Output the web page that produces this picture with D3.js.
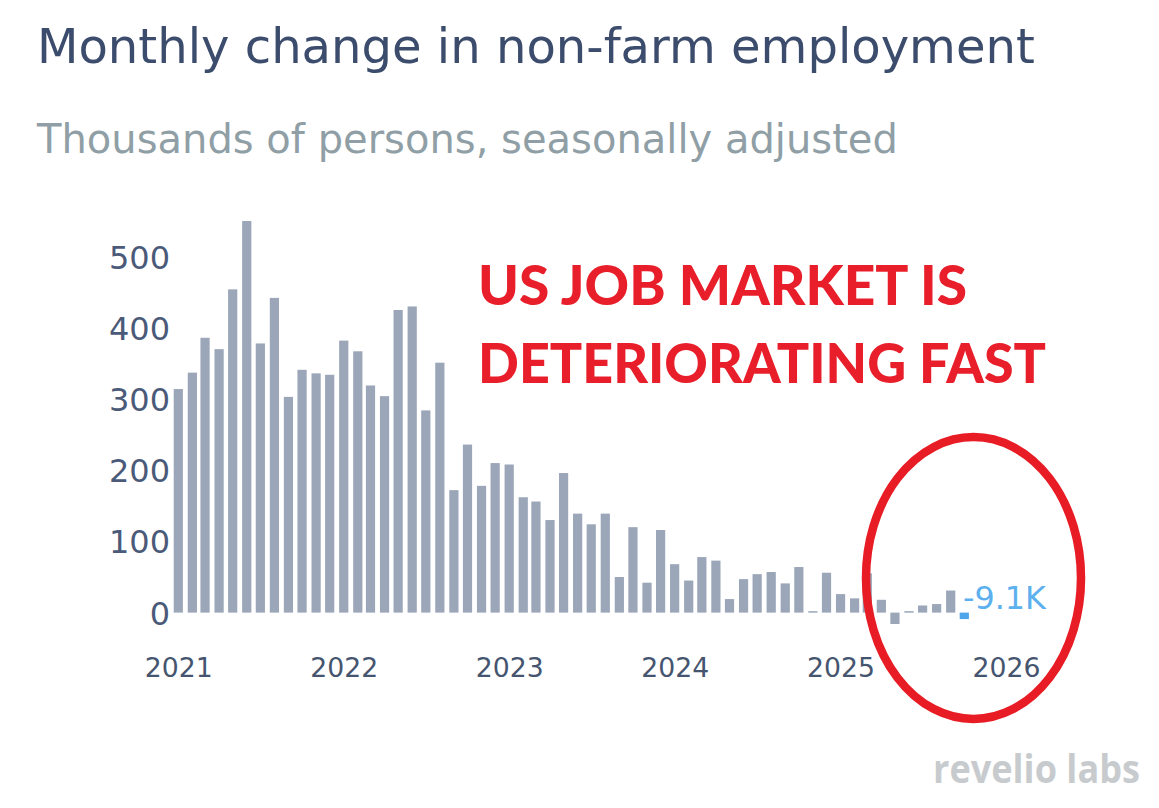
<!DOCTYPE html>
<html><head><meta charset="utf-8">
<script src="https://cdn.jsdelivr.net/npm/d3@7"></script>
<style>html,body{margin:0;padding:0;background:#fff}svg{display:block}</style></head>
<body><svg id="c" width="1159" height="808"></svg>
<script>
const months = d3.range(58).map(i => new Date(2021, i, 1));
const values = [314,337,386,370,454,550,378,442,303,341,336,334,382,367,319,304,425,430,284,351,172,236,178,210,208,162,156,130,196,139,124,139,50,120,42,116,68,45,78,73,19,47,54,57,41,64,2,56,26,20,55,18,-16,2,10,12,31,-9.1];
const yTicks = [0,100,200,300,400,500];
const xTicks = [2021,2022,2023,2024,2025,2026];
const titleText = "Monthly change in non-farm employment";
const subtitleText = "Thousands of persons, seasonally adjusted";
const noteLines = ["US JOB MARKET IS","DETERIORATING FAST"];
const noteWidths = [489,568];
const lastLabel = "-9.1K";

const svg = d3.select("#c");
const x = d3.scaleTime().domain([new Date(2021,0,1), new Date(2026,0,1)]).range([178.3,1006]);
const y = d3.scaleLinear().domain([0,500]).range([612.6,256.6]);
const bw = 9.2;
const sans = "'DejaVu Sans',sans-serif";
// scale a text's font size so that it spans the given width
function fit(t, w){ const fs = parseFloat(t.attr("font-size")); t.attr("font-size", fs*w/t.node().getComputedTextLength()); return t; }

fit(svg.append("text").attr("x",37).attr("y",63).attr("font-family",sans).attr("font-size",46).attr("fill","#3c4c6c").text(titleText), 998);
fit(svg.append("text").attr("x",37).attr("y",152.5).attr("font-family",sans).attr("font-size",38).attr("fill","#909fa6").text(subtitleText), 861);

svg.append("g").selectAll("rect").data(values).join("rect")
  .attr("x",(d,i)=>x(months[i])-bw/2)
  .attr("width",bw)
  .attr("y",d=>y(Math.max(d,0)))
  .attr("height",d=>Math.max(Math.abs(y(d)-y(0)),1.5))
  .attr("fill",(d,i)=>i===values.length-1?"#4ea5ea":"#9ba6b8");

const yAxis = d3.axisLeft(y).tickValues(yTicks).tickSize(0).tickPadding(0).tickFormat(d3.format("d"));
const gy = svg.append("g").attr("transform","translate(170,0)").call(yAxis);
gy.select(".domain").remove();
gy.selectAll("text").attr("font-family",sans).attr("font-size",32).attr("fill","#4a5a78").attr("dy","0.36em");

const xAxis = d3.axisBottom(x).tickValues(xTicks.map(v=>new Date(v,0,1))).tickSize(0).tickPadding(0).tickFormat(d3.timeFormat("%Y"));
const gx = svg.append("g").attr("transform","translate(0,657)").call(xAxis);
gx.select(".domain").remove();
gx.selectAll("text").attr("font-family",sans).attr("font-size",26.7).attr("fill","#46556f").attr("dy","0.74em");

fit(svg.append("text").attr("x",963).attr("y",609).attr("font-family",sans).attr("font-size",27).attr("fill","#5cb0ee").text(lastLabel), 83);

svg.append("g").selectAll("text").data(noteLines).join("text")
  .attr("x",478).attr("y",(d,i)=>305+i*78)
  .attr("font-family","Lato,sans-serif").attr("font-weight",900).attr("font-size",56).attr("fill","#e81f2a")
  .attr("textLength",(d,i)=>noteWidths[i]).attr("lengthAdjust","spacingAndGlyphs").text(d=>d);

svg.append("ellipse").attr("cx",973.5).attr("cy",578).attr("rx",107.5).attr("ry",141).attr("fill","none").attr("stroke","#e81c24").attr("stroke-width",8.5);

svg.append("text").attr("x",933).attr("y",783).attr("font-family","'Open Sans',sans-serif").attr("font-weight",700).attr("font-size",39).attr("fill","#c8cbce")
  .attr("textLength",207).attr("lengthAdjust","spacingAndGlyphs").text("revelio labs");
</script></body></html>
